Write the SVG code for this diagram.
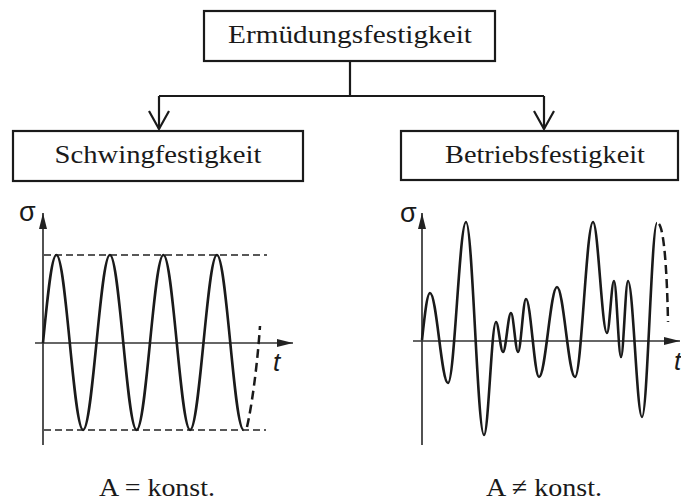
<svg xmlns="http://www.w3.org/2000/svg" width="681" height="501" viewBox="0 0 681 501">
<style>
.box{fill:#fff;stroke:#1a1a1a;stroke-width:2.2}
.lbl{font-family:"Liberation Serif",serif;font-size:26px;fill:#1a1a1a;text-anchor:middle}
.conn{fill:none;stroke:#1a1a1a;stroke-width:2.2}
.axis{stroke:#333;stroke-width:1.7;fill:none}
.curve{fill:none;stroke:#1a1a1a;stroke-width:2.6;stroke-linejoin:round}
.dash{fill:none;stroke:#222;stroke-width:1.7;stroke-dasharray:7 4}
.dash2{fill:none;stroke:#1a1a1a;stroke-width:2.5;stroke-dasharray:9 5}
.sym{font-family:"Liberation Sans",sans-serif;fill:#1a1a1a}
</style>
<defs>
<marker id="ax" markerUnits="userSpaceOnUse" markerWidth="18" markerHeight="10" refX="16" refY="4" orient="auto">
<path d="M0,0 L16,4 L0,8 Z" fill="#222"/>
</marker>
</defs>
<g id="connectors">
<path class="conn" d="M350,61 V96 M159,96 H544 M159,96 V129 M544,96 V129"/>
<path class="conn" d="M149,111 L159,129 L169,111 M534,111 L544,129 L554,111"/>
</g>
<g id="node-ermuedung">
<rect class="box" x="204" y="11" width="291" height="50"/>
<text class="lbl" x="350" y="43" textLength="244" lengthAdjust="spacingAndGlyphs">Ermüdungsfestigkeit</text>
</g>
<g id="node-schwing">
<rect class="box" x="13" y="131" width="290" height="50"/>
<text class="lbl" x="158" y="163" textLength="207" lengthAdjust="spacingAndGlyphs">Schwingfestigkeit</text>
</g>
<g id="node-betrieb">
<rect class="box" x="401" y="131" width="277" height="49"/>
<text class="lbl" x="545" y="163" textLength="200" lengthAdjust="spacingAndGlyphs">Betriebsfestigkeit</text>
</g>
<g id="chart-left">
<line class="axis" x1="43" y1="445" x2="43" y2="213" marker-end="url(#ax)"/>
<line class="axis" x1="35" y1="343" x2="293" y2="343" marker-end="url(#ax)"/>
<line class="dash" x1="44" y1="255" x2="267" y2="255"/>
<line class="dash" x1="44" y1="430" x2="266" y2="430"/>
<path class="curve" d="M43,343 C47.4,297.9 51.5,255 56.4,255 C66.1,255 73.4,430 83.1,430 C92.8,430 100.2,255 109.9,255 C119.6,255 126.9,430 136.6,430 C146.3,430 153.7,255 163.4,255 C173.1,255 180.4,430 190.1,430 C199.8,430 207.2,255 216.9,255 C226.6,255 233.9,430 243.6,430"/>
<path class="dash2" d="M247,427 C251,410 257,370 260,326"/>
<text class="sym" x="19" y="221" font-size="27">σ</text>
<text class="sym" x="273" y="371" font-size="26" font-style="italic">t</text>
</g>
<g id="chart-right">
<line class="axis" x1="422" y1="445" x2="422" y2="213" marker-end="url(#ax)"/>
<line class="axis" x1="413" y1="341" x2="680" y2="341" marker-end="url(#ax)"/>
<path class="curve" d="M422,340 C424.6,315.9 427.1,293 430,293 C436.6,293 441.4,383 448,383 C454.6,383 459.4,222 466,222 C472.6,222 477.4,435 484,435 C488.4,435 491.6,322 496,322 C498.5,322 500.5,352 503,352 C505.9,352 508.1,313 511,313 C513.5,313 515.5,352 518,352 C520.9,352 523.1,299 526,299 C530.7,299 534.3,377 539,377 C545.6,377 550.4,287 557,287 C563.6,287 568.4,377 575,377 C581.6,377 586.4,222 593,222 C598.1,222 601.9,333 607,333 C609.5,333 611.5,281 614,281 C616.5,281 618.5,357 621,357 C623.5,357 625.5,281 628,281 C633.1,281 636.9,417 642,417 C647.5,417 651.5,223 657,223"/>
<path class="dash2" d="M659,224 C664,230 667,270 668,322"/>
<text class="sym" x="400" y="222" font-size="27">σ</text>
<text class="sym" x="674" y="370" font-size="26" font-style="italic">t</text>
</g>
<g id="labels">
<text class="lbl" x="157" y="496" textLength="116" lengthAdjust="spacingAndGlyphs">A = konst.</text>
<text class="lbl" x="544" y="496" textLength="116" lengthAdjust="spacingAndGlyphs">A ≠ konst.</text>
</g>
</svg>
